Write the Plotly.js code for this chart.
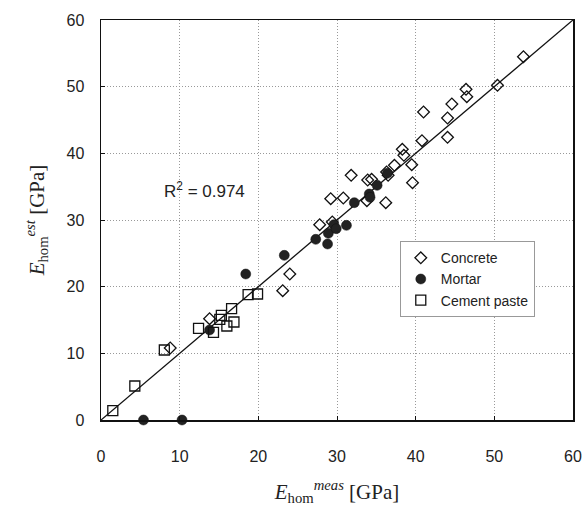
<!DOCTYPE html>
<html><head><meta charset="utf-8">
<script src="https://cdn.plot.ly/plotly-3.0.1.min.js"></script>
<style>html,body{margin:0;padding:0;background:#fff}#chart{width:587px;height:516px}</style>
</head><body><div id="chart"></div>
<script>
const concreteX = [8.8,13.8,23.1,24.0,27.8,29.4,29.2,30.8,31.8,33.8,33.9,34.4,36.2,36.3,36.5,37.3,38.3,38.5,39.5,39.6,40.8,41.0,44.05,44.05,44.6,46.4,46.5,50.4,53.7];
const concreteY = [10.8,15.2,19.4,21.9,29.3,29.7,33.2,33.3,36.7,32.9,36.0,36.1,32.6,37.2,36.7,38.2,40.6,39.7,38.3,35.6,41.9,46.2,45.3,42.4,47.4,49.6,48.5,50.2,54.5];
const mortarX = [5.4,10.3,13.8,18.4,23.3,27.3,28.8,28.9,29.6,29.9,31.2,32.2,34.1,34.2,35.1,36.4];
const mortarY = [0,0,13.5,21.9,24.7,27.1,26.4,28.0,29.3,28.7,29.2,32.6,33.9,33.4,35.2,37.0];
const pasteX = [1.5,4.3,8.05,12.4,14.3,15.1,15.3,16.0,16.6,16.9,18.7,19.9];
const pasteY = [1.4,5.1,10.5,13.75,13.15,15.1,15.7,14.1,16.7,14.7,18.8,18.9];
const fitX = [0,60];
const fitY = [0,60];
const tickVals = [0,10,20,30,40,50,60];
const r2Text = "R<sup>2</sup> = 0.974";

const traces = [
  {x:fitX,y:fitY,mode:'lines',line:{color:'#111',width:1.3},showlegend:false,hoverinfo:'skip'},
  {x:concreteX,y:concreteY,mode:'markers',name:'Concrete',cliponaxis:false,
   marker:{symbol:'diamond-open',size:9,color:'#111',line:{width:1.3,color:'#111'}}},
  {x:mortarX,y:mortarY,mode:'markers',name:'Mortar',cliponaxis:false,
   marker:{symbol:'circle',size:10,color:'#222',line:{width:0.5,color:'#111'}}},
  {x:pasteX,y:pasteY,mode:'markers',name:'Cement paste',cliponaxis:false,
   marker:{symbol:'square-open',size:10,color:'#111',line:{width:1.3,color:'#111'}}}
];
const axisCommon = {
  range:[0,60], tickvals:tickVals, showgrid:true, gridcolor:'#999', griddash:'1px,2px', gridwidth:1,
  showline:true, mirror:true, linecolor:'#111', linewidth:1.5, zeroline:false,
  ticks:'inside', ticklen:4, tickcolor:'#111',
  tickfont:{family:'Liberation Sans, Arial, sans-serif', size:16, color:'#222'}
};
const layout = {
  width:587, height:516,
  margin:{l:101,r:14,t:20,b:96},
  paper_bgcolor:'#fff', plot_bgcolor:'#fff',
  xaxis:Object.assign({}, axisCommon, {ticklabelstandoff:21,
    title:{text:'<i>E</i><sub>hom</sub><sup><i>meas</i></sup> [GPa]', standoff:20,
      font:{family:'Liberation Serif, Times New Roman, serif', size:21, color:'#222'}}}),
  yaxis:Object.assign({}, axisCommon, {ticklabelstandoff:12,
    title:{text:'<i>E</i><sub>hom</sub><sup><i>est</i></sup> [GPa]', standoff:16,
      font:{family:'Liberation Serif, Times New Roman, serif', size:21, color:'#222'}}}),
  legend:{x:0.633, y:0.447, xanchor:'left', yanchor:'top', bgcolor:'#fff',
    bordercolor:'#999', borderwidth:1, itemwidth:30,
    font:{family:'Liberation Sans, Arial, sans-serif', size:14, color:'#222'}},
  annotations:[{xref:'x',yref:'y',x:7.7,y:34.5,xanchor:'left',yanchor:'middle',showarrow:false,
    text:r2Text, font:{family:'Liberation Sans, Arial, sans-serif', size:17, color:'#222'}}]
};
Plotly.newPlot('chart', traces, layout, {displayModeBar:false, staticPlot:true});
</script></body></html>
